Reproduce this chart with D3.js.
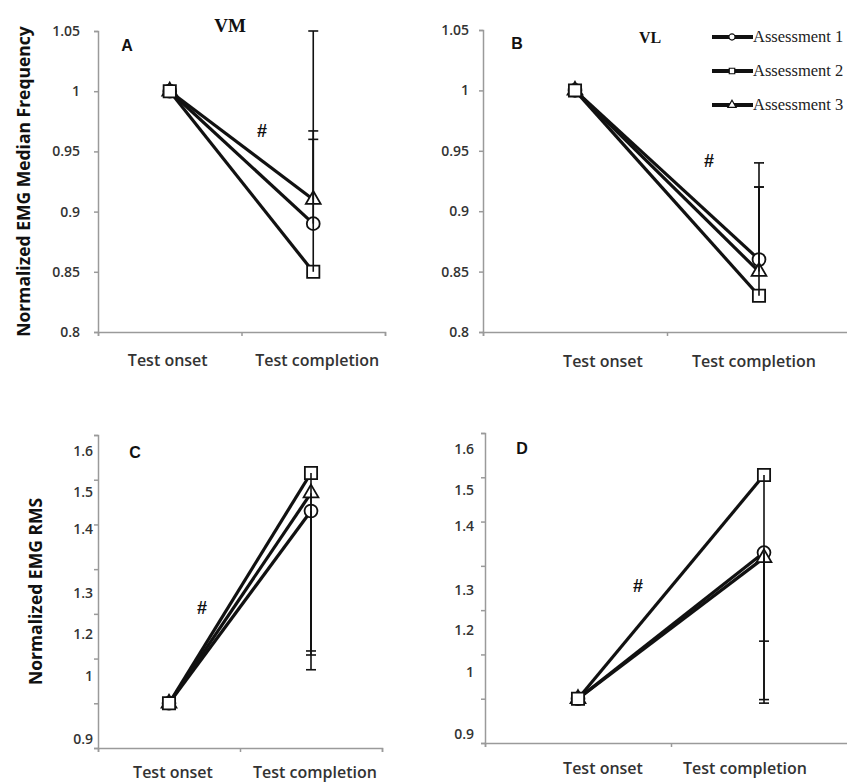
<!DOCTYPE html>
<html>
<head>
<meta charset="utf-8">
<script src="https://cdn.jsdelivr.net/npm/d3@7"></script>
<style>
  body { margin: 0; background: #fff; }
  svg { display: block; }
</style>
</head>
<body>
<div id="canvas"></div>
<script>
const width = 847;
const height = 783;

// categories and series
const categories = ["Test onset", "Test completion"];
const seriesNames = ["Assessment 1", "Assessment 2", "Assessment 3"];
const seriesShapes = [d3.symbolCircle, d3.symbolSquare, d3.symbolTriangle];

// A - VM median frequency
const vmFreq1 = [1.0, 0.89];
const vmFreq2 = [1.0, 0.85];
const vmFreq3 = [1.0, 0.91];
const vmFreqErr = [0.077, 0.2, 0.05];

// B - VL median frequency
const vlFreq1 = [1.0, 0.86];
const vlFreq2 = [1.0, 0.83];
const vlFreq3 = [1.0, 0.85];
const vlFreqErr = [0.06, 0.11, 0.07];

// C - VM RMS
const vmRms1 = [1.0, 1.43];
const vmRms2 = [1.0, 1.515];
const vmRms3 = [1.0, 1.47];
const vmRmsErr = [0.313, 0.44, 0.362];

// D - VL RMS
const vlRms1 = [1.0, 1.33];
const vlRms2 = [1.0, 1.505];
const vlRms3 = [1.0, 1.318];
const vlRmsErr = [0.2, 0.515, 0.32];

// tick labels
const freqTicks = [0.8, 0.85, 0.9, 0.95, 1, 1.05];
const rmsTicks = [0.9, 1.0, 1.1, 1.2, 1.3, 1.4, 1.5, 1.6];
// the RMS labels in the figure sit off their tick marks
const rmsTickLabels = ["0.9", "1", "1.2", "1.3", "1.4", "1.5", "1.6"];
const rmsLabelAt = [0.92, 1.06, 1.155, 1.246, 1.39, 1.472, 1.564];

const svg = d3.select("#canvas")
    .append("svg")
    .attr("width", width)
    .attr("height", height);

svg.append("rect")
    .attr("width", width)
    .attr("height", height)
    .attr("fill", "white");

const panels = [
    {letter: "A", title: "VM", series: [vmFreq1, vmFreq2, vmFreq3], err: vmFreqErr, dir: 1,
     x0: 98, x1: 385, yTop: 31, yBot: 332, domain: [0.8, 1.05], kind: "freq",
     tickPad: 14, labelDx: [-2, 4], labelY: 366, letterXY: [127, 51], titleXY: [230, 32],
     hashXY: [262, 137], yTitle: "Normalized EMG Median Frequency", yTitleX: 23},
    {letter: "B", title: "VL", series: [vlFreq1, vlFreq2, vlFreq3], err: vlFreqErr, dir: 1,
     x0: 483, x1: 851, yTop: 30, yBot: 332, domain: [0.8, 1.05], kind: "freq",
     tickPad: 10, labelDx: [28, -5], labelY: 367, letterXY: [517, 49], titleXY: [650, 43],
     hashXY: [709, 167]},
    {letter: "C", series: [vmRms1, vmRms2, vmRms3], err: vmRmsErr, dir: -1,
     x0: 98, x1: 382, yTop: 435, yBot: 748, domain: [0.9, 1.6], kind: "rms",
     tickPad: 5, labelDx: [4, 4], labelY: 778, letterXY: [135, 458],
     hashXY: [202, 614], yTitle: "Normalized EMG RMS", yTitleX: 35},
    {letter: "D", series: [vlRms1, vlRms2, vlRms3], err: vlRmsErr, dir: -1,
     x0: 485, x1: 857, yTop: 433, yBot: 743, domain: [0.9, 1.6], kind: "rms",
     tickPad: 11, labelDx: [25, -19], labelY: 774, letterXY: [522, 454],
     hashXY: [638, 592]}
];

const axisGray = "#9a9a9a";
const textGray = "#333";

panels.forEach(function(p) {
    let g = svg.append("g");

    let x = d3.scaleBand()
        .domain(categories)
        .range([p.x0, p.x1]);
    let y = d3.scaleLinear()
        .domain(p.domain)
        .range([p.yBot, p.yTop]);
    let cx = d => x(d) + x.bandwidth() / 2;

    // y axis
    let yAxis;
    if (p.kind === "freq") {
        yAxis = d3.axisLeft(y)
            .tickValues(freqTicks)
            .tickFormat(d => String(+d.toFixed(2)))
            .tickSize(4)
            .tickPadding(p.tickPad);
    } else {
        yAxis = d3.axisLeft(y)
            .tickValues(rmsTicks)
            .tickFormat("")
            .tickSize(4);
    }
    let ya = g.append("g")
        .attr("transform", "translate(" + p.x0 + ",0)")
        .call(yAxis);

    if (p.kind === "rms") {
        let labelAxis = d3.axisLeft(y)
            .tickValues(rmsLabelAt)
            .tickFormat((d, i) => rmsTickLabels[i])
            .tickSize(0)
            .tickPadding(p.tickPad);
        let la = g.append("g")
            .attr("transform", "translate(" + p.x0 + ",0)")
            .call(labelAxis);
        la.select(".domain").remove();
        la.selectAll("text")
            .attr("font-family", "Open Sans")
            .attr("font-weight", 600)
            .attr("font-size", 14)
            .attr("fill", textGray);
    }

    ya.select(".domain").attr("stroke", axisGray).attr("stroke-width", 1.5);
    ya.selectAll(".tick line").attr("stroke", axisGray).attr("stroke-width", 1.5);
    ya.selectAll("text")
        .attr("font-family", "Open Sans")
        .attr("font-weight", 600)
        .attr("font-size", 14)
        .attr("fill", textGray);

    // x axis: ticks on the category boundaries
    let xb = d3.scaleLinear().domain([0, categories.length]).range([p.x0, p.x1]);
    let xa = g.append("g")
        .attr("transform", "translate(0," + p.yBot + ")")
        .call(d3.axisBottom(xb).ticks(categories.length).tickFormat("").tickSize(4));
    xa.select(".domain").attr("stroke", axisGray).attr("stroke-width", 1.5);
    xa.selectAll(".tick line").attr("stroke", axisGray).attr("stroke-width", 1.5);

    g.selectAll(".xlabel")
        .data(categories)
        .enter()
        .append("text")
        .attr("x", (d, i) => cx(d) + p.labelDx[i])
        .attr("y", p.labelY)
        .attr("text-anchor", "middle")
        .attr("font-family", "Open Sans")
        .attr("font-weight", 600)
        .attr("font-size", 16)
        .attr("fill", textGray)
        .text(d => d);

    // series lines
    let line = d3.line()
        .x((d, i) => cx(categories[i]))
        .y(d => y(d));
    p.series.forEach(function(s) {
        g.append("path")
            .attr("d", line(s))
            .attr("fill", "none")
            .attr("stroke", "#111")
            .attr("stroke-width", 3.2);
    });

    // markers (squares drawn last, as in the figure)
    let sizes = [130, 150, 95];
    [0, 2, 1].forEach(function(k) {
        g.selectAll(null)
            .data(p.series[k])
            .enter()
            .append("path")
            .attr("transform", (d, i) => "translate(" + cx(categories[i]) + "," + y(d) + ")")
            .attr("d", d3.symbol().type(seriesShapes[k]).size(sizes[k]))
            .attr("fill", "white")
            .attr("stroke", "#111")
            .attr("stroke-width", 1.8);
    });

    // error bars at test completion
    let ex = cx(categories[1]);
    p.series.forEach(function(s, k) {
        let v = s[1];
        let e = v + p.dir * p.err[k];
        g.append("line")
            .attr("x1", ex).attr("x2", ex)
            .attr("y1", y(v)).attr("y2", y(e))
            .attr("stroke", "#111")
            .attr("stroke-width", 1.6);
        g.append("line")
            .attr("x1", ex - 5).attr("x2", ex + 5)
            .attr("y1", y(e)).attr("y2", y(e))
            .attr("stroke", "#111")
            .attr("stroke-width", 1.6);
    });

    // panel letter, hash sign, title
    g.append("text")
        .attr("x", p.letterXY[0])
        .attr("y", p.letterXY[1])
        .attr("text-anchor", "middle")
        .attr("font-family", "Liberation Sans")
        .attr("font-weight", "bold")
        .attr("font-size", 16)
        .attr("fill", "#111")
        .text(p.letter);

    g.append("text")
        .attr("x", p.hashXY[0])
        .attr("y", p.hashXY[1])
        .attr("text-anchor", "middle")
        .attr("font-family", "Liberation Sans")
        .attr("font-weight", "bold")
        .attr("font-size", 18)
        .attr("fill", "#111")
        .text("#");

    if (p.title) {
        g.append("text")
            .attr("x", p.titleXY[0])
            .attr("y", p.titleXY[1])
            .attr("text-anchor", "middle")
            .attr("font-family", "Liberation Serif")
            .attr("font-weight", "bold")
            .attr("font-size", p.letter === "A" ? 19 : 16)
            .attr("fill", "#111")
            .text(p.title);
    }

    if (p.yTitle) {
        g.append("text")
            .attr("transform", "translate(" + p.yTitleX + "," + (p.yTop + p.yBot) / 2 + ") rotate(-90)")
            .attr("text-anchor", "middle")
            .attr("dominant-baseline", "central")
            .attr("font-family", "Open Sans")
            .attr("font-weight", 700)
            .attr("font-size", 17.5)
            .attr("fill", "#111")
            .text(p.yTitle);
    }
});

// legend in panel B
let legend = svg.append("g");
seriesNames.forEach(function(name, k) {
    let ly = 37 + k * 34;
    legend.append("line")
        .attr("x1", 712).attr("x2", 753)
        .attr("y1", ly).attr("y2", ly)
        .attr("stroke", "#111")
        .attr("stroke-width", 4);
    legend.append("path")
        .attr("transform", "translate(732," + ly + ")")
        .attr("d", d3.symbol().type(seriesShapes[k]).size(30))
        .attr("fill", "white")
        .attr("stroke", "#111")
        .attr("stroke-width", 1.2);
    legend.append("text")
        .attr("x", 753)
        .attr("y", ly + 5)
        .attr("font-family", "Liberation Serif")
        .attr("font-size", 16.5)
        .attr("fill", "#222")
        .text(name);
});
</script>
</body>
</html>
